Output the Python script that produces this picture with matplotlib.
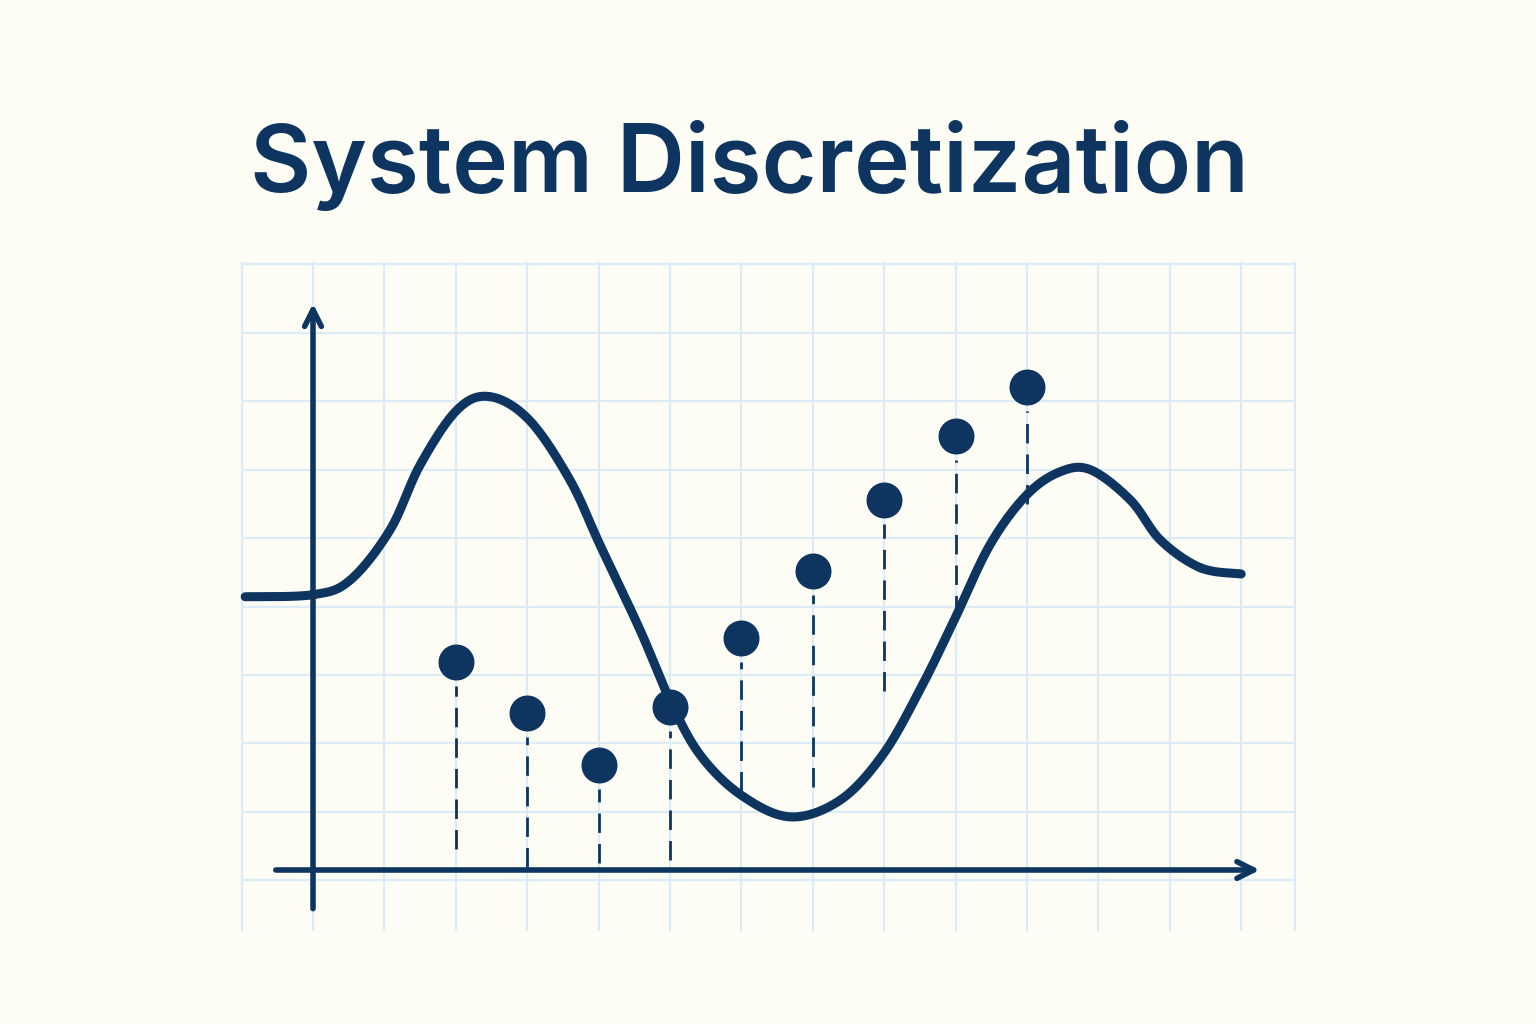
import numpy as np
import matplotlib.pyplot as plt

# data units: one grid cell; origin where the axes cross
curve_x = [-0.95, 0.0, 0.52, 1.08, 1.5, 2.02, 2.48, 3.03, 3.6, 4.02, 4.58, 5.0,
           5.42, 5.99, 6.68, 7.38, 7.98, 8.5, 8.98, 9.48, 9.99, 10.46, 10.89,
           11.45, 11.87, 12.43, 13.0]
curve_y = [3.96, 3.99, 4.2, 4.93, 5.87, 6.67, 6.86, 6.52, 5.65, 4.71, 3.48, 2.46,
           1.67, 1.09, 0.77, 1.01, 1.67, 2.61, 3.62, 4.71, 5.43, 5.77, 5.8,
           5.36, 4.78, 4.38, 4.29]
sample_x = [2, 3, 4, 5, 6, 7, 8, 9, 10]
sample_y = [3.01, 2.28, 1.52, 2.36, 3.36, 4.33, 5.36, 6.29, 7.0]
stem_bottom = [0.3, 0.05, 0.1, 0.15, 1.15, 1.2, 2.6, 3.7, 5.3]

NAVY = "#0d3560"
GRID = "#dcecf6"
BG = "#fdfcf5"


def catmull_rom(xs, ys, n=30):
    pts = np.column_stack([xs, ys])
    pts = np.vstack([pts[0], pts, pts[-1]])
    out = []
    for i in range(1, len(pts) - 2):
        p0, p1, p2, p3 = pts[i - 1], pts[i], pts[i + 1], pts[i + 2]
        t = np.linspace(0, 1, n)[:, None]
        out.append(0.5 * ((2 * p1) + (-p0 + p2) * t
                          + (2 * p0 - 5 * p1 + 4 * p2 - p3) * t ** 2
                          + (-p0 + 3 * p1 - 3 * p2 + p3) * t ** 3))
    out = np.vstack(out)
    return out[:, 0], out[:, 1]


fig = plt.figure(figsize=(15.36, 10.24), dpi=100, facecolor=BG)
ax = fig.add_axes([0, 0, 1, 1])
ax.set_facecolor(BG)
ax.set_xlim(-313 / 71.4, (1536 - 313) / 71.4)
ax.set_ylim(-154 / 69, 870 / 69)
ax.axis("off")

# grid
for gx in range(-1, 14):
    ax.plot([gx, gx], [-0.87, 8.8], color=GRID, lw=1.5, zorder=0)
ax.plot([13.75, 13.75], [-0.87, 8.8], color=GRID, lw=1.5, zorder=0)
for k in range(10):
    gy = -0.15 + k * 0.992
    ax.plot([-0.98, 13.75], [gy, gy], color=GRID, lw=1.5, zorder=0)

# axes with arrows
ax.annotate("", xy=(0, 8.25), xytext=(0, -0.6),
            arrowprops=dict(arrowstyle="->,head_length=1.2,head_width=0.6",
                            color=NAVY, lw=4, capstyle="round"))
ax.annotate("", xy=(13.3, 0), xytext=(-0.56, 0),
            arrowprops=dict(arrowstyle="->,head_length=1.2,head_width=0.6",
                            color=NAVY, lw=4, capstyle="round"))

# continuous signal
cx, cy = catmull_rom(curve_x, curve_y)
ax.plot(cx, cy, color=NAVY, lw=6.5, solid_capstyle="round", zorder=3)

# samples
for x, y, b in zip(sample_x, sample_y, stem_bottom):
    ax.plot([x, x], [b, y - 0.35], color=NAVY, lw=2, ls=(0, (7, 4)), zorder=2)
ax.scatter(sample_x, sample_y, s=620, color=NAVY, zorder=4)

fig.text(0.488, 0.838, "System Discretization", ha="center", va="center",
         fontsize=68, fontweight="semibold", family="Inter", color=NAVY)

fig.savefig("out.png", dpi=100, facecolor=BG)
